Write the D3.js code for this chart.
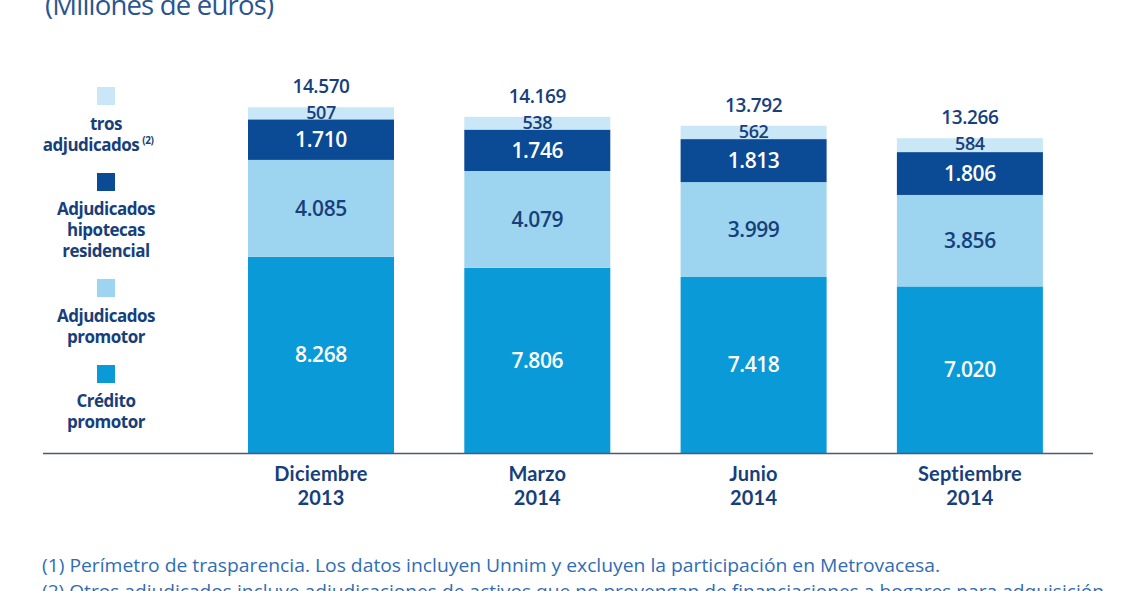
<!DOCTYPE html>
<html><head><meta charset="utf-8">
<script src="https://cdn.jsdelivr.net/npm/d3@7"></script>
<style>
body{margin:0;background:#fff;}
svg{display:block;}
</style></head>
<body>
<svg id="chart" width="1128" height="591"></svg>
<script>
const categories = ["Diciembre|2013", "Marzo|2014", "Junio|2014", "Septiembre|2014"];
const creditoPromotor = [8268, 7806, 7418, 7020];
const adjudicadosPromotor = [4085, 4079, 3999, 3856];
const adjudicadosHipotecas = [1710, 1746, 1813, 1806];
const otrosAdjudicados = [507, 538, 562, 584];
const totals = [14570, 14169, 13792, 13266];
const totalLabels = ["14.570", "14.169", "13.792", "13.266"];
const seriesNames = ["Crédito|promotor", "Adjudicados|promotor", "Adjudicados|hipotecas|residencial", "tros|adjudicados"];
const title = "(Millones de euros)";
const footnotes = [
  "(1)  Perímetro de trasparencia. Los datos incluyen Unnim y excluyen la participación en Metrovacesa.",
  "(2)  Otros adjudicados incluye adjudicaciones de activos que no provengan de financiaciones a hogares para adquisición"
];

const colors = ["#0b9ad8", "#9dd5f0", "#0b4a94", "#c9e7f7"];
const textDark = "#173f7b";
const fmt = v => d3.format(",")(v).replace(/,/g, ".");

const svg = d3.select("#chart");
const FONT = "'Open Sans', sans-serif";

const x = d3.scaleBand().domain(categories).range([212.85, 1078.05]).paddingInner(0.325).paddingOuter(0.1625);
const y = d3.scaleLinear().domain([0, 15000]).range([453, 453 - 15000 * 0.023727]);

const seriesData = [creditoPromotor, adjudicadosPromotor, adjudicadosHipotecas, otrosAdjudicados];
const rows = categories.map((c, i) => ({cat: c, s0: seriesData[0][i], s1: seriesData[1][i], s2: seriesData[2][i], s3: seriesData[3][i]}));
const stack = d3.stack().keys(["s0", "s1", "s2", "s3"])(rows);

// title
svg.append("text").attr("x", 45).attr("y", 15).attr("font-family", FONT)
  .attr("font-size", 27.5).attr("fill", "#2a5590").attr("letter-spacing", -0.8).text(title);

// bars
stack.forEach((layer, li) => {
  svg.append("g").selectAll("rect").data(layer).join("rect")
    .attr("x", d => x(d.data.cat)).attr("width", x.bandwidth())
    .attr("y", d => y(d[1])).attr("height", d => y(d[0]) - y(d[1]))
    .attr("fill", colors[li]);
});

// segment labels
stack.forEach((layer, li) => {
  svg.append("g").selectAll("text").data(layer).join("text")
    .attr("x", d => x(d.data.cat) + x.bandwidth() / 2)
    .attr("y", d => li === 3 ? y(d[1]) + 12 : (y(d[0]) + y(d[1])) / 2 + 7.5)
    .attr("text-anchor", "middle")
    .attr("font-family", FONT).attr("font-weight", 600)
    .attr("font-size", li === 3 ? 18 : 21)
    .attr("letter-spacing", -0.4)
    .attr("fill", (li === 0 || li === 2) ? "#ffffff" : textDark)
    .text(d => fmt(d[1] - d[0]));
});

// totals
svg.append("g").selectAll("text").data(categories).join("text")
  .attr("x", c => x(c) + x.bandwidth() / 2)
  .attr("y", (c, i) => y(totals[i]) - 14)
  .attr("text-anchor", "middle").attr("font-family", FONT).attr("font-weight", 600)
  .attr("font-size", 19).attr("letter-spacing", -0.4).attr("fill", textDark)
  .text((c, i) => totalLabels[i]);

// axis
const axis = svg.append("g").attr("transform", "translate(0,453)")
  .call(d3.axisBottom(x).tickSize(0).tickFormat(""));
axis.select(".domain").remove();
svg.append("line").attr("x1", 43).attr("x2", 1093).attr("y1", 453.5).attr("y2", 453.5)
  .attr("stroke", "#4a5a70").attr("stroke-width", 1.5);

// category labels (two lines each)
categories.forEach(c => {
  c.split("|").forEach((ln, k) => {
    svg.append("text")
      .attr("x", x(c) + x.bandwidth() / 2).attr("y", 481 + k * 23.5)
      .attr("text-anchor", "middle").attr("font-family", "Lato, sans-serif").attr("font-weight", 700)
      .attr("font-size", 20).attr("letter-spacing", 0.2).attr("fill", textDark)
      .text(ln);
  });
});

// legend
const legendItems = [
  {name: seriesNames[3], color: colors[3], sq: 87, ty: 130, sup: true},
  {name: seriesNames[2], color: colors[2], sq: 173, ty: 215},
  {name: seriesNames[1], color: colors[1], sq: 279, ty: 322},
  {name: seriesNames[0], color: colors[0], sq: 365, ty: 407}
];
legendItems.forEach(it => {
  svg.append("rect").attr("x", 97).attr("y", it.sq).attr("width", 18).attr("height", 18).attr("fill", it.color);
  const t = svg.append("text").attr("text-anchor", "middle").attr("font-family", FONT)
    .attr("font-weight", 700).attr("font-size", 17).attr("letter-spacing", -0.5).attr("fill", textDark);
  it.name.split("|").forEach((ln, k) => {
    const ts = t.append("tspan").attr("x", 106).attr("y", it.ty + k * 21).text(ln);
    if (it.sup && k === 1) {
      ts.attr("x", 98);
      t.append("tspan").attr("font-size", 10).attr("dy", -7).attr("dx", 3).text("(2)");
    }
  });
});

// footnotes
const fnWidths = [898, 1062];
footnotes.forEach((f, i) => {
  svg.append("text").attr("x", 42).attr("y", 572 + i * 26)
    .attr("font-family", FONT)
    .attr("font-size", 19).attr("fill", "#2f6db5")
    .attr("textLength", fnWidths[i]).attr("lengthAdjust", "spacingAndGlyphs").text(f);
});
</script>
</body></html>
